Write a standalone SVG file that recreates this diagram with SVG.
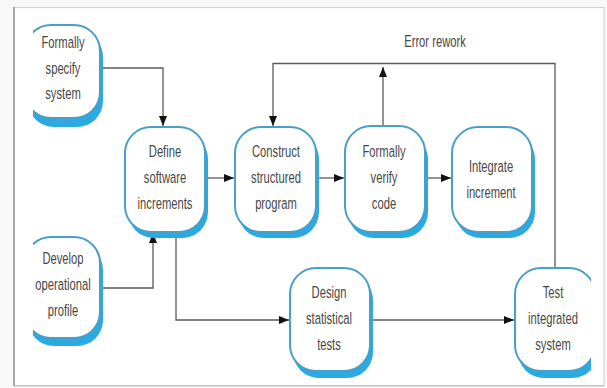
<svg xmlns="http://www.w3.org/2000/svg" width="607" height="388" viewBox="0 0 607 388">
<defs>
<style>
.frame{fill:#fff;stroke:#d4d4d4;stroke-width:1.2}
.edge{fill:none;stroke:#5a5a5a;stroke-width:1.3}
.shadow{fill:#2aa9e2}
.box{fill:#fff;stroke:#4a9fc4;stroke-width:2}
.t{font-family:"Liberation Sans",Arial,sans-serif;font-size:16.5px;fill:#474747;text-anchor:middle}
</style>
<marker id="arr" viewBox="0 0 10 8" refX="10" refY="4" markerWidth="10" markerHeight="8" markerUnits="userSpaceOnUse" orient="auto">
<path d="M0,0 L10,4 L0,8 Z" fill="#111"/>
</marker>
<clipPath id="clipL"><rect x="33" y="0" width="574" height="388"/></clipPath>
<clipPath id="clipR"><rect x="0" y="0" width="591" height="388"/></clipPath>
</defs>
<rect x="0" y="0" width="607" height="388" fill="#f8f8f8"/>
<rect class="frame" x="14" y="7.5" width="590" height="378"/>
<line x1="14" y1="7" x2="14" y2="386" stroke="#9a9a9a" stroke-width="1.6"/>
<line x1="14" y1="386" x2="604" y2="386" stroke="#bdbdbd" stroke-width="1.2"/>

<g id="connectors">
<path class="edge" d="M100,68 H163 V126" marker-end="url(#arr)"/>
<path class="edge" d="M100,288 H153 V233" marker-end="url(#arr)"/>
<path class="edge" d="M176,233 V320 H289" marker-end="url(#arr)"/>
<path class="edge" d="M205,178 H234" marker-end="url(#arr)"/>
<path class="edge" d="M317,178 H344" marker-end="url(#arr)"/>
<path class="edge" d="M425,178 H451" marker-end="url(#arr)"/>
<path class="edge" d="M383,126 V67" marker-end="url(#arr)"/>
<path class="edge" d="M555,268 V63.5 H273 V126" marker-end="url(#arr)"/>
<path class="edge" d="M370,320 H514" marker-end="url(#arr)"/>
<g transform="translate(435,47) scale(0.68,1)"><text class="t" x="0" y="0">Error rework</text></g>
</g>

<g id="n-specify" clip-path="url(#clipL)">
<rect class="shadow" x="28" y="31" width="75" height="96" rx="26" ry="26"/>
<rect class="box" x="25" y="25" width="75" height="93" rx="26" ry="26"/>
<g transform="translate(63,0) scale(0.68,1)">
<text class="t" x="0" y="48">Formally</text>
<text class="t" x="0" y="74">specify</text>
<text class="t" x="0" y="99">system</text>
</g>
</g>

<g id="n-develop" clip-path="url(#clipL)">
<rect class="shadow" x="28" y="244" width="75" height="102" rx="26" ry="26"/>
<rect class="box" x="25" y="237" width="75" height="101" rx="26" ry="26"/>
<g transform="translate(63,0) scale(0.68,1)">
<text class="t" x="0" y="264">Develop</text>
<text class="t" x="0" y="290">operational</text>
<text class="t" x="0" y="316">profile</text>
</g>
</g>

<g id="n-define">
<rect class="shadow" x="128" y="133" width="80" height="105" rx="26" ry="26"/>
<rect class="box" x="125" y="127" width="80" height="105" rx="26" ry="26"/>
<g transform="translate(165,0) scale(0.68,1)">
<text class="t" x="0" y="157">Define</text>
<text class="t" x="0" y="183">software</text>
<text class="t" x="0" y="209">increments</text>
</g>
</g>

<g id="n-construct">
<rect class="shadow" x="238" y="133" width="81" height="105" rx="26" ry="26"/>
<rect class="box" x="235" y="127" width="81" height="105" rx="26" ry="26"/>
<g transform="translate(276,0) scale(0.68,1)">
<text class="t" x="0" y="157">Construct</text>
<text class="t" x="0" y="183">structured</text>
<text class="t" x="0" y="209">program</text>
</g>
</g>

<g id="n-verify">
<rect class="shadow" x="348" y="133" width="80" height="105" rx="26" ry="26"/>
<rect class="box" x="345" y="126" width="80" height="106" rx="26" ry="26"/>
<g transform="translate(384,0) scale(0.68,1)">
<text class="t" x="0" y="157">Formally</text>
<text class="t" x="0" y="183">verify</text>
<text class="t" x="0" y="209">code</text>
</g>
</g>

<g id="n-integrate">
<rect class="shadow" x="455" y="133" width="80" height="105" rx="26" ry="26"/>
<rect class="box" x="452" y="127" width="80" height="105" rx="26" ry="26"/>
<g transform="translate(491,0) scale(0.68,1)">
<text class="t" x="0" y="172">Integrate</text>
<text class="t" x="0" y="198">increment</text>
</g>
</g>

<g id="n-design">
<rect class="shadow" x="293" y="274" width="80" height="104" rx="26" ry="26"/>
<rect class="box" x="290" y="268" width="80" height="103" rx="26" ry="26"/>
<g transform="translate(329,0) scale(0.68,1)">
<text class="t" x="0" y="298">Design</text>
<text class="t" x="0" y="324">statistical</text>
<text class="t" x="0" y="350">tests</text>
</g>
</g>

<g id="n-test" clip-path="url(#clipR)">
<rect class="shadow" x="518" y="274" width="80" height="104" rx="26" ry="26"/>
<rect class="box" x="515" y="268" width="80" height="103" rx="26" ry="26"/>
<g transform="translate(553,0) scale(0.68,1)">
<text class="t" x="0" y="298">Test</text>
<text class="t" x="0" y="324">integrated</text>
<text class="t" x="0" y="350">system</text>
</g>
</g>
</svg>
